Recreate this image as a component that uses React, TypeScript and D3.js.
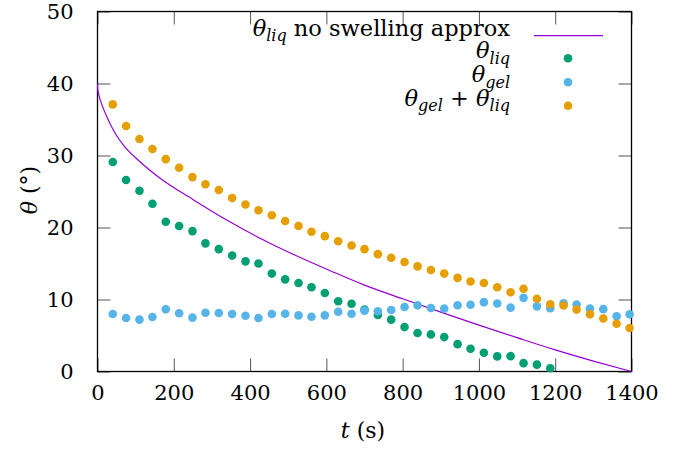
import React, { useRef, useEffect } from "react";
import * as d3 from "d3";

// sample times (s), shared by all three measured series
const times = [
  40, 75, 110, 144, 179, 214, 249, 283, 318, 353, 388, 422, 457, 492, 527,
  561, 596, 631, 666, 700, 735, 770, 805, 839, 874, 909, 944, 978, 1013, 1048,
  1083, 1117, 1152, 1187, 1222, 1256, 1291, 1326, 1361, 1395,
];

const thetaLiq = [
  29.1, 26.6, 25.1, 23.3, 20.8, 20.2, 19.5, 17.8, 17.0, 16.1, 15.3, 15.0, 13.6,
  12.8, 12.3, 11.7, 10.9, 9.75, 9.4, 8.6, 7.84, 7.2, 6.17, 5.34, 5.15, 4.78,
  3.8, 3.16, 2.6, 2.1, 2.13, 1.16, 0.95, 0.46,
];

const thetaGel = [
  7.98, 7.43, 7.2, 7.57, 8.64, 8.08, 7.48, 8.17, 8.12, 7.98, 7.75, 7.43, 7.98,
  8.03, 7.8, 7.6, 7.8, 8.3, 8.03, 8.45, 8.36, 8.54, 8.96, 9.19, 8.82, 8.73,
  9.2, 9.27, 9.63, 9.45, 8.87, 10.23, 9.05, 8.78, 9.46, 9.31, 8.73, 8.66, 7.68,
  7.94,
];

const thetaSum = [
  37.1, 34.1, 32.3, 30.9, 29.5, 28.3, 27.0, 26.0, 25.2, 24.1, 23.2, 22.4, 21.7,
  20.9, 20.2, 19.4, 18.8, 18.1, 17.5, 17.0, 16.3, 15.8, 15.2, 14.6, 14.1, 13.6,
  13.0, 12.5, 12.3, 11.7, 11.0, 11.5, 10.1, 9.35, 9.17, 8.6, 7.94, 7.36, 6.64,
  6.05,
];

// no-swelling approximation, sampled off the curve
const approxT = [
  0, 1, 4, 12, 25, 45, 70, 110, 165, 250, 340, 430, 520, 610, 700, 800, 900,
  1000, 1100, 1200, 1300, 1400,
];
const approxTheta = [
  40, 39.1, 38.3, 37.0, 35.3, 33.2, 31.3, 29.2, 26.8, 23.9, 21.0, 18.4, 16.1,
  14.0, 12.0, 10.1, 8.25, 6.45, 4.7, 3.0, 1.45, 0,
];

const xTicks = [0, 200, 400, 600, 800, 1000, 1200, 1400];
const yTicks = [0, 10, 20, 30, 40, 50];

const FONT = "DejaVu Serif";
const PURPLE = "#9400d3";
const GREEN = "#009e73";
const BLUE = "#56b4e9";
const ORANGE = "#e69f00";

const Chart: React.FC = () => {
  const svgRef = useRef<SVGSVGElement>(null);

  useEffect(() => {
    const width = 683;
    const height = 449;
    const margin = { top: 11.5, right: 51.5, bottom: 77.5, left: 97.5 };

    const svg = d3.select(svgRef.current);
    svg.selectAll("*").remove();

    const x = d3
      .scaleLinear()
      .domain([0, 1400])
      .range([margin.left, width - margin.right]);
    const y = d3
      .scaleLinear()
      .domain([0, 50])
      .range([height - margin.bottom, margin.top]);

    const tick = 13;

    const styleAxis = (g: any) => {
      g.attr("font-family", FONT).attr("font-size", 21);
      g.select(".domain").remove();
      g.selectAll(".tick line").attr("stroke", "#555").attr("stroke-width", 1);
      g.selectAll(".tick text").attr("fill", "#000");
    };

    svg
      .append("g")
      .attr("transform", `translate(0,${y(0)})`)
      .call(
        d3
          .axisBottom(x)
          .tickValues(xTicks)
          .tickSize(-tick)
          .tickPadding(14)
          .tickFormat(d3.format("d"))
      )
      .call(styleAxis);

    svg
      .append("g")
      .attr("transform", `translate(0,${y(50)})`)
      .call(
        d3
          .axisTop(x)
          .tickValues(xTicks)
          .tickSize(-tick)
          .tickFormat(() => "")
      )
      .call(styleAxis);

    svg
      .append("g")
      .attr("transform", `translate(${x(0)},0)`)
      .call(d3.axisLeft(y).tickValues(yTicks).tickSize(-tick).tickPadding(24))
      .call(styleAxis);

    svg
      .append("g")
      .attr("transform", `translate(${x(1400)},0)`)
      .call(
        d3
          .axisRight(y)
          .tickValues(yTicks)
          .tickSize(-tick)
          .tickFormat(() => "")
      )
      .call(styleAxis);

    // frame
    svg
      .append("rect")
      .attr("x", x(0))
      .attr("y", y(50))
      .attr("width", x(1400) - x(0))
      .attr("height", y(0) - y(50))
      .attr("fill", "none")
      .attr("stroke", "#000")
      .attr("stroke-width", 1.3);

    // approximation curve
    const line = d3
      .line<number>()
      .x((d, i) => x(approxT[i]))
      .y((d) => y(d))
      .curve(d3.curveMonotoneX);

    svg
      .append("path")
      .datum(approxTheta)
      .attr("d", line)
      .attr("fill", "none")
      .attr("stroke", PURPLE)
      .attr("stroke-width", 1.2);

    const r = 4.3;
    const series: [number[], string][] = [
      [thetaLiq, GREEN],
      [thetaGel, BLUE],
      [thetaSum, ORANGE],
    ];
    series.forEach(([vals, color]) => {
      svg
        .append("g")
        .selectAll("circle")
        .data(vals)
        .enter()
        .append("circle")
        .attr("cx", (d, i) => x(times[i]))
        .attr("cy", (d) => y(d))
        .attr("r", r)
        .attr("fill", color);
    });

    // legend
    const legX = 510;
    const rows = [35.7, 58.3, 82.3, 105.7];
    const sh = 5.5; // subscript drop
    const leg = svg.append("g").attr("fill", "#000");

    // each part: [text, italic, subscript]
    type Part = [string, boolean, boolean];
    const legendRows: Part[][] = [
      [
        ["θ", true, false],
        ["liq", true, true],
        [" no swelling approx", false, false],
      ],
      [
        ["θ", true, false],
        ["liq", true, true],
      ],
      [
        ["θ", true, false],
        ["gel", true, true],
      ],
      [
        ["θ", true, false],
        ["gel", true, true],
        [" + ", false, false],
        ["θ", true, false],
        ["liq", true, true],
      ],
    ];

    legendRows.forEach((parts, ri) => {
      const t = leg
        .append("text")
        .attr("x", legX)
        .attr("y", rows[ri])
        .attr("dy", "0.32em")
        .attr("text-anchor", "end");
      let down = false;
      parts.forEach(([txt, it, sub]) => {
        const dy = sub && !down ? sh : !sub && down ? -sh : 0;
        down = sub;
        t.append("tspan")
          .attr("dy", dy)
          .attr("font-style", it ? "italic" : "normal")
          .attr("font-size", sub ? 16 : 22.5)
          .text(txt);
      });
    });

    leg
      .append("line")
      .attr("x1", 534)
      .attr("x2", 603)
      .attr("y1", rows[0])
      .attr("y2", rows[0])
      .attr("stroke", PURPLE)
      .attr("stroke-width", 1.2);

    [GREEN, BLUE, ORANGE].forEach((c, i) => {
      leg
        .append("circle")
        .attr("cx", 568)
        .attr("cy", rows[i + 1])
        .attr("r", r)
        .attr("fill", c);
    });

    // axis titles
    const xt = svg
      .append("text")
      .attr("x", 363)
      .attr("y", 431)
      .attr("dy", "0.32em")
      .attr("text-anchor", "middle")
      .attr("font-size", 22);
    xt.append("tspan").attr("font-style", "italic").text("t");
    xt.append("tspan").text(" (s)");

    const yt = svg
      .append("text")
      .attr("transform", "translate(30,190) rotate(-90)")
      .attr("dy", "0.32em")
      .attr("text-anchor", "middle")
      .attr("font-size", 22);
    yt.append("tspan").attr("font-style", "italic").text("θ");
    yt.append("tspan").text(" (°)");
  }, []);

  return (
    <svg
      ref={svgRef}
      width={683}
      height={449}
      fontFamily={FONT}
      fontSize={21}
      style={{ position: "absolute", left: 0, top: 0, background: "#fff" }}
    />
  );
};

export default function App() {
  return <Chart />;
}
